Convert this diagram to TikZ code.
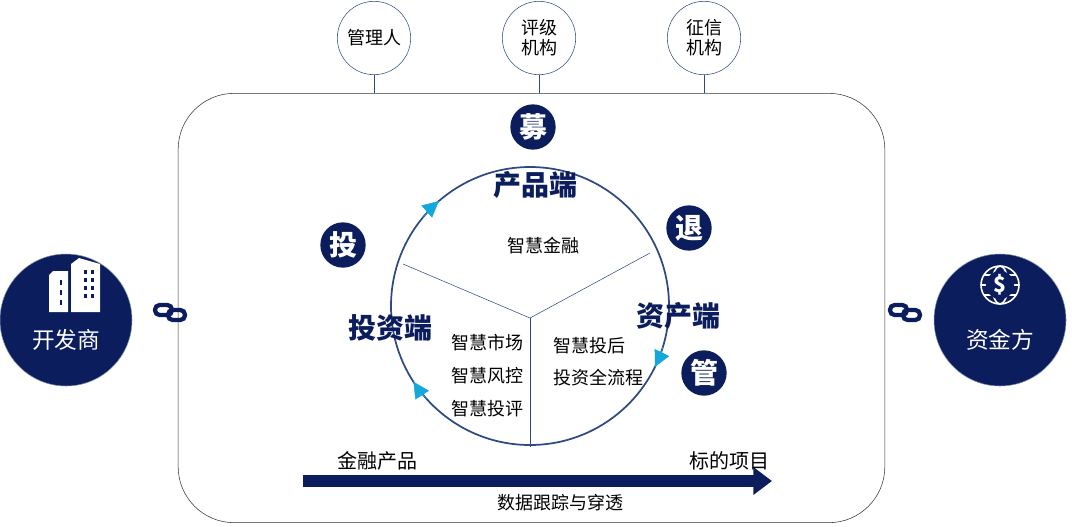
\documentclass[tikz,border=0pt]{standalone}
\usepackage{fontspec}
\setmainfont{Noto Sans CJK SC}
\usetikzlibrary{arrows.meta,positioning}
\definecolor{navy}{HTML}{0B1D5C}
\definecolor{ring}{HTML}{2E4A82}
\definecolor{cyanarr}{HTML}{12A8DA}
\tikzset{
  top/.style={circle,draw=ring,fill=white,minimum size=55pt,inner sep=0pt,align=center,font=\fontsize{13.5}{15}\selectfont},
  badge/.style={circle,fill=navy,text=white,minimum size=34pt,inner sep=0pt,font=\fontsize{21}{21}\selectfont\bfseries},
  side/.style={circle,fill=navy,draw=ring!60,minimum size=99pt,inner sep=0pt},
  lbl/.style={text=navy,font=\fontsize{21}{21}\selectfont\bfseries},
  txt/.style={font=\fontsize{13.5}{15}\selectfont},
  flow/.style={cyanarr,line width=0.4pt,-{Triangle[length=12pt,width=12pt]}},
  link/.style={navy,line width=3.2pt,rounded corners=3.5pt}
}
\begin{document}
\begin{tikzpicture}[x=0.75pt,y=-0.75pt]
\useasboundingbox (0,0) rectangle (1080,526);

% frame
\node (box) [draw=black!80,rounded corners=42pt,minimum width=530pt,minimum height=322pt] at (531.5,308) {};

% top partners
\node (gl) [top] at (374,38) {管理人};
\node (pj) [top] at (539,38) {评级\\机构};
\node (zx) [top] at (704,38) {征信\\机构};
\foreach \n in {gl,pj,zx}
  \draw [ring] (\n) -- (\n |- box.north);

% cycle
\coordinate (o) at (530,306);
\draw [ring,line width=1.3pt] (o) circle [radius=139];
\coordinate (m) at (530,318);
\coordinate (a) at (403,264);
\coordinate (b) at (650,253);
\coordinate (c) at (530,447);
\draw [ring] (m) -- (a);
\draw [ring] (m) -- (b);
\draw [ring] (m) -- (c);
\draw [flow] ([shift={(-140:139)}]o) arc (-140:-131:139);
\draw [flow] ([shift={(-222:139)}]o) arc (-222:-213:139);
\draw [flow] ([shift={(17:139)}]o) arc (17:26:139);

\node (cp) [lbl] at (535,185) {产品端};
\node (tz) [lbl] at (390,328) {投资端};
\node (zc) [lbl] at (678,316) {资产端};

\node (mu) [badge] at (533,127) {募};
\node (to) [badge] at (343,245) {投};
\node (tu) [badge] at (689,228) {退};
\node (gu) [badge] at (704,373) {管};

\node (t1) [txt] at (543,246) {智慧金融};
\node (t2) [txt] at (487,343) {智慧市场};
\node (t3) [txt] at (487,376) {智慧风控};
\node (t4) [txt] at (487,409) {智慧投评};
\node (t5) [txt,anchor=west] at (549,346) {智慧投后};
\node (t6) [txt,anchor=west] at (549,378) {投资全流程};

% bottom flow
\coordinate (s) at (303,481);
\coordinate (e) at (772,481);
\draw [navy,line width=9pt,-{Triangle[length=14pt,width=20pt]}] (s) -- (e);
\node (fp) [txt,font=\fontsize{15}{15}\selectfont] at (377,461) {金融产品};
\node (bd) [txt,font=\fontsize{15}{15}\selectfont] at (729,461) {标的项目};
\node (sj) [txt] at (560,503) {数据跟踪与穿透};

% sides
\node (kf) [side] at (66,320) {};
\node [text=white,font=\fontsize{17}{17}\selectfont] at (66,340) {开发商};
\begin{scope}[white]
  \fill (49,284) -- (49,275) -- (53,271) -- (68,271) -- (68,312) -- (49,312) -- cycle;
  \fill (71,264) -- (79,258) -- (100,264) -- (100,312) -- (71,312) -- cycle;
  \foreach \yy in {270,278,286,294}
    \foreach \xx in {84,91} \fill[navy] (\xx,\yy) rectangle ++(3,4);
  \foreach \yy in {280,290,300} \fill[navy] (60,\yy) rectangle ++(2,5);
\end{scope}

\node (zj) [side] at (1000,320) {};
\node [text=white,font=\fontsize{17}{17}\selectfont] at (1000,340) {资金方};
\begin{scope}[white,line width=1.2pt]
  \draw (1000,285) circle [radius=19];
  \draw (1000,285) ellipse [x radius=8,y radius=19];
  \draw (981,285) -- (1019,285);
  \draw (984,275) -- (1016,275);
  \draw (984,295) -- (1016,295);
  \node [circle,fill=navy,inner sep=1pt,text=white,font=\fontsize{16}{16}\selectfont\bfseries] at (1000,285) {\$};
\end{scope}

% links
\foreach \cx in {170,905} {
  \draw [link] (\cx-15,305) rectangle (\cx+2,315);
  \draw [link] (\cx-2,310) rectangle (\cx+15,320);
}
\end{tikzpicture}
\end{document}
